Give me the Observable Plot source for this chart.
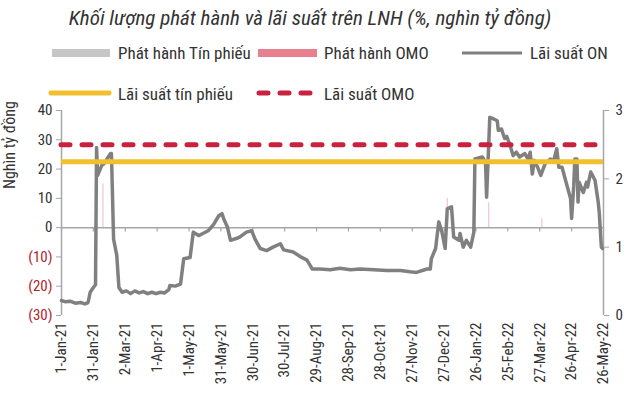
<!DOCTYPE html>
<html><head><meta charset="utf-8">
<script src="https://cdn.jsdelivr.net/npm/d3@7"></script>
<script src="https://cdn.jsdelivr.net/npm/@observablehq/plot@0.6"></script>
<style>
body{margin:0;background:#fff;}
#wrap{position:relative;width:626px;height:403px;overflow:hidden;font-family:"Liberation Sans Narrow","Arial Narrow","Roboto Condensed","Liberation Sans",sans-serif;color:#333;}
.title{position:absolute;left:0;top:6px;width:620px;text-align:center;font-style:italic;font-size:21px;line-height:24px;color:#333;white-space:nowrap;}
.lt{position:absolute;font-size:17px;line-height:18px;white-space:nowrap;color:#333;}
.sw{position:absolute;}
.ylab{position:absolute;left:-45px;top:135px;width:110px;text-align:center;transform:rotate(-90deg);font-size:16px;line-height:20px;color:#333;white-space:nowrap;}
#chart{position:absolute;left:0;top:100px;}
</style></head><body>
<div id="wrap">
  <div class="title">Khối lượng phát hành và lãi suất trên LNH (%, nghìn tỷ đồng)</div>
  <div class="sw" style="left:52px;top:49px;width:58px;height:8px;background:#c6c6c6"></div>
  <div class="lt" style="left:118px;top:44px">Phát hành Tín phiếu</div>
  <div class="sw" style="left:258px;top:49px;width:59px;height:8px;background:#e8808f"></div>
  <div class="lt" style="left:324px;top:44px">Phát hành OMO</div>
  <svg class="sw" style="left:460px;top:46px" width="66" height="14"><line x1="2" x2="62" y1="7" y2="7" stroke="#808080" stroke-width="3"/></svg>
  <div class="lt" style="left:530px;top:44px">Lãi suất ON</div>
  <svg class="sw" style="left:47px;top:86px" width="68" height="14"><line x1="4" x2="62" y1="7" y2="7" stroke="#f0c02e" stroke-width="5" stroke-linecap="round"/></svg>
  <div class="lt" style="left:118px;top:85px">Lãi suất tín phiếu</div>
  <svg class="sw" style="left:254px;top:86px" width="64" height="14"><line x1="5" x2="58" y1="7" y2="7" stroke="#c8223f" stroke-width="5" stroke-linecap="round" stroke-dasharray="9,12"/></svg>
  <div class="lt" style="left:324px;top:85px">Lãi suất OMO</div>
  <div class="ylab">Nghìn tỷ đồng</div>
  <div id="chart"></div>
</div>
<script>
// ---- data ----
const tickLabels = ["1-Jan-21","31-Jan-21","2-Mar-21","1-Apr-21","1-May-21","31-May-21","30-Jun-21","30-Jul-21","29-Aug-21","28-Sep-21","28-Oct-21","27-Nov-21","27-Dec-21","26-Jan-22","25-Feb-22","27-Mar-22","26-Apr-22","26-May-22"];
const leftTicks = [40, 30, 20, 10, 0, -10, -20, -30];
const rightTicks = [0, 1, 2, 3];
const rightTickLabels = ["0", "1", "2", "3"];
const omoRate = 2.5;        // %
const tinPhieuRate = 2.25;  // %
const onDates = ["2021-01-01","2021-01-05","2021-01-09","2021-01-14","2021-01-19","2021-01-23","2021-01-26","2021-01-28","2021-01-31","2021-02-02","2021-02-03","2021-02-04","2021-02-08","2021-02-10","2021-02-14","2021-02-16","2021-02-17","2021-02-19","2021-02-22","2021-02-24","2021-02-27","2021-03-03","2021-03-07","2021-03-11","2021-03-15","2021-03-19","2021-03-23","2021-03-27","2021-03-31","2021-04-04","2021-04-08","2021-04-12","2021-04-13","2021-04-18","2021-04-23","2021-04-26","2021-05-02","2021-05-05","2021-05-10","2021-05-14","2021-05-19","2021-05-24","2021-05-29","2021-06-01","2021-06-03","2021-06-06","2021-06-09","2021-06-15","2021-06-18","2021-06-24","2021-06-29","2021-07-02","2021-07-07","2021-07-13","2021-07-19","2021-07-26","2021-07-29","2021-08-07","2021-08-15","2021-08-20","2021-08-25","2021-09-01","2021-09-11","2021-09-20","2021-09-30","2021-10-09","2021-10-22","2021-11-03","2021-11-16","2021-11-25","2021-12-01","2021-12-11","2021-12-14","2021-12-15","2021-12-19","2021-12-22","2021-12-25","2021-12-28","2021-12-30","2022-01-03","2022-01-05","2022-01-10","2022-01-11","2022-01-14","2022-01-17","2022-01-21","2022-01-24","2022-01-25","2022-02-01","2022-02-04","2022-02-05","2022-02-08","2022-02-11","2022-02-15","2022-02-16","2022-02-19","2022-02-22","2022-02-24","2022-02-27","2022-03-02","2022-03-05","2022-03-08","2022-03-13","2022-03-16","2022-03-18","2022-03-20","2022-03-22","2022-03-25","2022-03-28","2022-04-01","2022-04-06","2022-04-09","2022-04-12","2022-04-14","2022-04-17","2022-04-22","2022-04-25","2022-04-26","2022-04-28","2022-04-29","2022-05-01","2022-05-02","2022-05-03","2022-05-07","2022-05-10","2022-05-11","2022-05-14","2022-05-18","2022-05-21","2022-05-22","2022-05-24","2022-05-25"];
const onRates = [0.22,0.20,0.21,0.18,0.19,0.17,0.19,0.34,0.41,0.45,2.46,2.05,2.20,2.22,2.32,2.37,2.37,1.12,0.88,0.41,0.34,0.36,0.32,0.36,0.33,0.35,0.32,0.34,0.32,0.34,0.33,0.38,0.44,0.43,0.46,0.83,0.85,1.22,1.17,1.20,1.24,1.33,1.46,1.49,1.40,1.30,1.10,1.13,1.15,1.22,1.24,1.12,0.98,0.95,1.00,1.05,0.96,0.93,0.85,0.81,0.68,0.68,0.67,0.69,0.67,0.68,0.67,0.66,0.66,0.64,0.63,0.68,0.68,0.83,0.98,1.37,1.22,0.98,1.56,1.59,1.15,1.10,1.20,1.00,1.10,1.00,1.22,2.29,2.32,2.24,1.73,2.90,2.88,2.85,2.71,2.73,2.59,2.62,2.49,2.34,2.39,2.32,2.37,2.29,2.39,2.07,2.27,2.17,2.05,2.22,2.29,2.26,2.44,2.17,2.17,1.88,1.71,1.42,1.90,2.29,2.29,1.66,1.95,1.80,1.95,1.88,2.10,1.98,1.66,1.51,1.00,0.98];
const omoIssueDates = ["2021-02-09","2021-12-30","2022-02-07","2022-03-29"];
const omoIssueValues = [15, 10, 8.5, 3];   // nghìn tỷ đồng
const tinPhieuIssueDates = [];
const tinPhieuIssueValues = [];

// ---- build ----
const parseTick = d3.utcParse("%d-%b-%y");
const tickDates = tickLabels.map(parseTick);
const toLeft = r => -30 + r * 70 / 3;  // right axis (%) 0..3 ↔ left axis -30..40
const n = Math.min(onDates.length, onRates.length);
const onData = d3.range(n).map(i => ({date: new Date(onDates[i]), rate: onRates[i]}));
const omoIssue = omoIssueDates.map((d, i) => ({date: new Date(d), value: omoIssueValues[i]}));
const tpIssue = tinPhieuIssueDates.map((d, i) => ({date: new Date(d), value: tinPhieuIssueValues[i]}));
const FONT = '"Liberation Sans Narrow","Arial Narrow","Roboto Condensed","Liberation Sans",sans-serif';

const chart = Plot.plot({
  width: 626, height: 303,
  marginLeft: 61, marginRight: 23, marginTop: 10, marginBottom: 88,
  style: {fontFamily: FONT, fontSize: "15px", color: "#333", background: "transparent", overflow: "visible"},
  x: {type: "utc", domain: [tickDates[0], tickDates[tickDates.length - 1]]},
  y: {domain: [-30, 40]},
  marks: [
    Plot.ruleX(tpIssue, {x: "date", y1: 0, y2: "value", stroke: "#c6c6c6", strokeWidth: 1.5}),
    Plot.ruleX(omoIssue, {x: "date", y1: 0, y2: "value", stroke: "#f2c4cc", strokeWidth: 1.2}),
    Plot.ruleY([0], {stroke: "#a6a6a6", strokeWidth: 1.5}),
    Plot.ruleX(tickDates, {x: d => d, y1: 0, y2: -1.5, stroke: "#a6a6a6", strokeWidth: 1.2}),
    Plot.ruleX([tickDates[0]], {x: d => d, stroke: "#a6a6a6", strokeWidth: 1.5}),
    Plot.ruleX([tickDates[tickDates.length - 1]], {x: d => d, stroke: "#a6a6a6", strokeWidth: 1.5}),
    Plot.axisY(leftTicks.filter(t => t >= 0), {anchor: "left", tickSize: 5, tickPadding: 4, stroke: "#a6a6a6", fill: "#333", fontSize: 15, label: null}),
    Plot.axisY(leftTicks.filter(t => t < 0), {anchor: "left", tickSize: 5, tickPadding: 4, stroke: "#a6a6a6", fill: "#b01e2a", fontSize: 15, label: null, tickFormat: d => `(${-d})`}),
    Plot.axisY(rightTicks.map(toLeft), {anchor: "right", tickSize: 5, tickPadding: 7, stroke: "#a6a6a6", fill: "#333", fontSize: 15, label: null, tickFormat: (d, i) => rightTickLabels[i]}),
    Plot.axisX(tickDates, {anchor: "bottom", tickSize: 0, tickPadding: 7, tickRotate: -90, fill: "#333", fontSize: 15, label: null, tickFormat: (d, i) => tickLabels[i]}),
    Plot.lineY(onData, {x: "date", y: d => toLeft(d.rate), stroke: "#808080", strokeWidth: 3.5, strokeLinejoin: "round"}),
    Plot.ruleY([tinPhieuRate], {y: d => toLeft(d), stroke: "#f0c02e", strokeWidth: 5}),
    Plot.ruleY([omoRate], {y: d => toLeft(d), stroke: "#c8223f", strokeWidth: 5, strokeDasharray: "9,12", strokeLinecap: "round"})
  ]
});
document.getElementById("chart").appendChild(chart);
</script>
</body></html>
